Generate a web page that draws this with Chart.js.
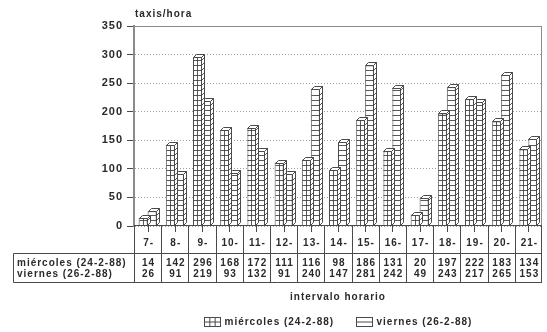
<!DOCTYPE html>
<html>
<head>
<meta charset="utf-8">
<script src="https://cdn.jsdelivr.net/npm/chart.js@4"></script>
<style>
  html, body { margin: 0; padding: 0; background: #fff; }
  #wrap { width: 547px; height: 332px; }
</style>
</head>
<body>
<div id="wrap"><canvas id="c" width="547" height="332"></canvas></div>
<script>
// Hourly intervals and taxi counts per hour for the two survey days
const intervals = ['7-', '8-', '9-', '10-', '11-', '12-', '13-', '14-', '15-', '16-', '17-', '18-', '19-', '20-', '21-'];
const miercoles = [14, 142, 296, 168, 172, 111, 116, 98, 186, 131, 20, 197, 222, 183, 134];
const viernes   = [26, 91, 219, 93, 132, 91, 240, 147, 281, 242, 49, 243, 217, 265, 153];
const seriesNames = ['miércoles (24-2-88)', 'viernes (26-2-88)'];
const yMax = 350;
const yStep = 50;
const yTitle = 'taxis/hora';
const xTitle = 'intervalo horario';

const FAMILY = '"Liberation Sans", Arial, sans-serif';
const FONT = 'bold 10px ' + FAMILY;
const INK = '#2a2a2a';
const LINE = '#4a4a4a';
const DEPTH = 3;      // 3D offset of the bar tops/sides
const RUNG = 5;       // spacing of the hatch lines inside the bars

function line(ctx, x1, y1, x2, y2) {
  ctx.beginPath();
  ctx.moveTo(x1, y1);
  ctx.lineTo(x2, y2);
  ctx.stroke();
}

// Gives each bar its hatching plus a top and side face
const bars3d = {
  id: 'bars3d',
  afterDatasetDraw(chart, args) {
    const ctx = chart.ctx;
    const grid = args.index === 0;
    ctx.save();
    ctx.strokeStyle = LINE;
    ctx.lineWidth = 1;
    args.meta.data.forEach(bar => {
      const l = Math.round(bar.x - bar.width / 2) + 0.5;
      const r = Math.round(bar.x + bar.width / 2) - 0.5;
      const t = Math.round(bar.y) + 0.5;
      const b = Math.round(bar.base) - 0.5;
      // side face
      ctx.fillStyle = '#fff';
      ctx.beginPath();
      ctx.moveTo(r, t);
      ctx.lineTo(r + DEPTH, t - DEPTH);
      ctx.lineTo(r + DEPTH, b - DEPTH);
      ctx.lineTo(r, b);
      ctx.closePath();
      ctx.fill();
      ctx.stroke();
      // top face
      ctx.beginPath();
      ctx.moveTo(l, t);
      ctx.lineTo(l + DEPTH, t - DEPTH);
      ctx.lineTo(r + DEPTH, t - DEPTH);
      ctx.lineTo(r, t);
      ctx.closePath();
      ctx.fill();
      ctx.stroke();
      // hatching
      ctx.strokeStyle = 'rgba(60,60,60,0.85)';
      for (let yy = b - RUNG; yy > t + 1; yy -= RUNG) {
        line(ctx, l, yy, r, yy);
        line(ctx, r, yy, r + DEPTH, yy - DEPTH);
      }
      if (grid) {
        const m = Math.round(bar.x - 0.5) + 0.5;
        line(ctx, m, t, m, b);
      }
      ctx.strokeStyle = LINE;
    });
    ctx.restore();
  }
};

// Frame, data table, titles and legend
const decor = {
  id: 'decor',
  beforeDraw(chart) {
    chart.ctx.letterSpacing = '1px';
  },
  afterDraw(chart) {
    const ctx = chart.ctx;
    const a = chart.chartArea;
    const xs = chart.scales.x;
    ctx.save();
    ctx.letterSpacing = '1px';
    ctx.font = FONT;
    ctx.fillStyle = INK;

    // plot frame
    ctx.strokeStyle = '#8a8a8a';
    ctx.lineWidth = 1;
    line(ctx, a.left, a.top + 0.5, a.right, a.top + 0.5);
    line(ctx, a.right - 0.5, a.top, a.right - 0.5, a.bottom);
    ctx.strokeStyle = LINE;
    line(ctx, a.left, a.bottom - 0.5, a.right, a.bottom - 0.5);

    // data table
    const half = (xs.getPixelForValue(1) - xs.getPixelForValue(0)) / 2;
    const rowTop = a.bottom;
    const rowMid = 253.5;
    const rowBot = 282.5;
    const labelLeft = 13.5;
    ctx.strokeStyle = LINE;
    for (let i = 0; i <= intervals.length; i++) {
      const x = Math.round(xs.getPixelForValue(i) - half) + 0.5;
      line(ctx, Math.min(x, a.right - 0.5), rowTop, Math.min(x, a.right - 0.5), rowBot);
    }
    line(ctx, labelLeft, rowMid, a.right, rowMid);
    line(ctx, labelLeft, rowBot, a.right, rowBot);
    line(ctx, labelLeft, rowMid, labelLeft, rowBot);

    ctx.textBaseline = 'middle';
    ctx.textAlign = 'center';
    intervals.forEach((lab, i) => {
      const cx = xs.getPixelForValue(i);
      line(ctx, Math.round(cx) + 0.5, a.bottom, Math.round(cx) + 0.5, a.bottom + 6);
      ctx.fillText(lab, cx + 1, 243);
      ctx.fillText(String(miercoles[i]), cx + 1, 263);
      ctx.fillText(String(viernes[i]), cx + 1, 274);
    });
    ctx.textAlign = 'left';
    ctx.fillText(seriesNames[0], 17, 263);
    ctx.fillText(seriesNames[1], 17, 274);

    // axis titles
    ctx.fillText(yTitle, a.left + 1, 14);
    ctx.textAlign = 'center';
    ctx.fillText(xTitle, (a.left + a.right) / 2, 297);

    // legend
    const boxW = 16, boxH = 9, gap = 4, sep = 22;
    const w1 = ctx.measureText(seriesNames[0]).width;
    const w2 = ctx.measureText(seriesNames[1]).width;
    const total = boxW + gap + w1 + sep + boxW + gap + w2;
    let x = Math.round((a.left + a.right) / 2 - total / 2) + 0.5;
    const by = 317.5;
    ctx.textAlign = 'left';
    ctx.strokeStyle = LINE;
    ctx.strokeRect(x, by, boxW, boxH);
    line(ctx, x, by + boxH / 2, x + boxW, by + boxH / 2);
    line(ctx, x + boxW / 3, by, x + boxW / 3, by + boxH);
    line(ctx, x + 2 * boxW / 3, by, x + 2 * boxW / 3, by + boxH);
    ctx.fillText(seriesNames[0], x + boxW + gap, by + boxH / 2 + 0.5);
    x = Math.round(x + boxW + gap + w1 + sep) + 0.5;
    ctx.strokeRect(x, by, boxW, boxH);
    line(ctx, x, by + boxH / 2, x + boxW, by + boxH / 2);
    ctx.fillText(seriesNames[1], x + boxW + gap, by + boxH / 2 + 0.5);
    ctx.restore();
  }
};

const barStyle = {
  backgroundColor: '#fff',
  borderColor: LINE,
  borderWidth: 1,
  borderSkipped: 'start',
  categoryPercentage: 0.66,
  barPercentage: 1.0
};

new Chart(document.getElementById('c'), {
  type: 'bar',
  data: {
    labels: intervals,
    datasets: [
      Object.assign({ label: seriesNames[0], data: miercoles }, barStyle),
      Object.assign({ label: seriesNames[1], data: viernes }, barStyle)
    ]
  },
  options: {
    responsive: false,
    devicePixelRatio: 1,
    animation: false,
    layout: { padding: { left: 0, top: 26, right: 5, bottom: 106 } },
    plugins: {
      colors: { enabled: false },
      legend: { display: false },
      tooltip: { enabled: false },
      title: { display: false }
    },
    scales: {
      x: { display: false },
      y: {
        min: 0,
        max: yMax,
        afterFit(scale) { scale.width = 134; },
        ticks: {
          stepSize: yStep,
          color: INK,
          font: { family: FAMILY, size: 11, weight: 'bold' },
          padding: 4
        },
        grid: {
          color: '#9aa0a8',
          lineWidth: 1,
          tickLength: 7,
          tickColor: LINE,
          tickBorderDash: [],
          drawOnChartArea: true
        },
        border: { display: true, color: '#8a8a8a', width: 2, dash: [1, 2] }
      }
    }
  },
  plugins: [bars3d, decor]
});
</script>
</body>
</html>
